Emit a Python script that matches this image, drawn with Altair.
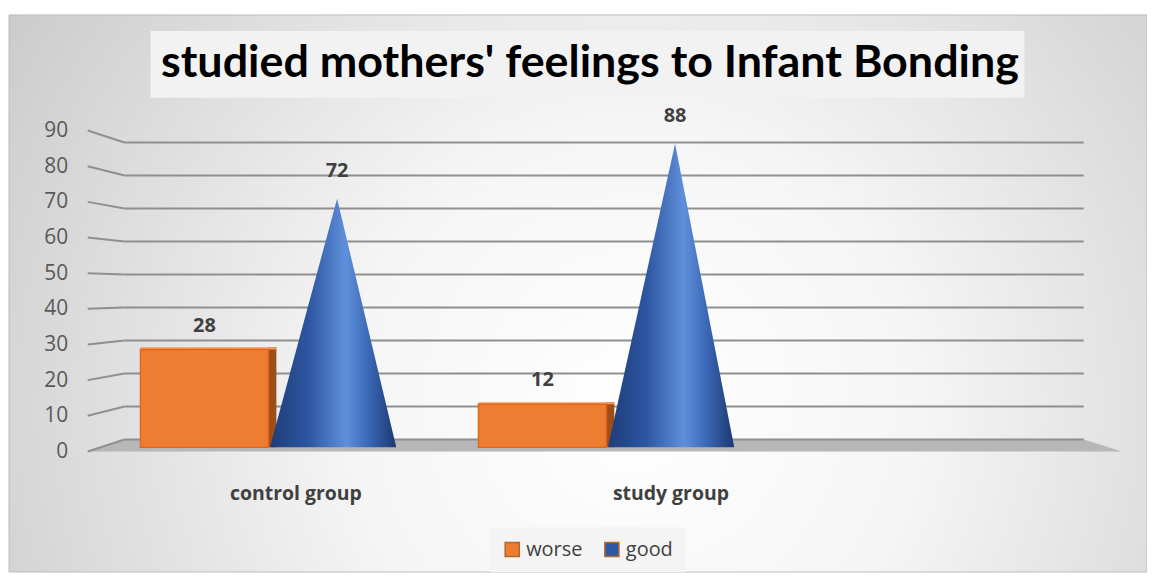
import altair as alt
import pandas as pd

# ---------------- data ----------------
groups = ["control group", "study group"]
worse = [28, 12]
good = [72, 88]
series = ["worse", "good"]
y_ticks = [0, 10, 20, 30, 40, 50, 60, 70, 80, 90]
title_text = "studied mothers' feelings to Infant Bonding"

# ---------------- perspective / layout constants (style only) ----------------
XMIN, XMAX = -0.115, 3.12          # slot units across the front floor edge
BACK_OFF, BACK_K = 3.354, 0.9254   # back-wall position expressed in front-axis units
MID_OFF, MID_K = 1.677, 0.9614     # mid-depth (where the bars stand)
BASE = 1.2
W, H = 1038, 322
PAD = {"left": 80, "top": 122, "right": 25, "bottom": 121}
FONT = "Open Sans"
TXT = "#404040"

xs = alt.Scale(domain=[XMIN, XMAX], nice=False, zero=False)
ys = alt.Scale(domain=[0, 90], nice=False, zero=False)
Y_AXIS = alt.Axis(values=y_ticks, domain=False, ticks=False, grid=False,
                  labelPadding=20, labelFont=FONT, labelFontSize=21,
                  labelColor="#595959", zindex=2, title=None,
                  labelOverlap=False, labelFlush=False)


def X(field):
    return alt.X(field, scale=xs, axis=None)


def Y(field):
    return alt.Y(field, scale=ys, axis=Y_AXIS, title=None)


bars = pd.DataFrame({"group": groups, "i": list(range(len(groups))),
                     "worse": worse, "good": good})
ticks = pd.DataFrame({"v": y_ticks})
one = pd.DataFrame({"a": [0]})

# cone outline points (left base, apex, right base) built from the data arrays
cone_rows = []
for i, (g, val) in enumerate(zip(groups, good)):
    off = 0.05 + 0.057 * i
    for frac, top in ((0.405, False), (0.615, True), (0.80, False)):
        cone_rows.append({"group": g, "cx": i + off + frac,
                          "cy": MID_OFF + MID_K * val if top else BASE})
cones = pd.DataFrame(cone_rows)

floor = pd.DataFrame({"fx": [XMIN, 0, 3, XMAX],
                      "fy": [0, BACK_OFF, BACK_OFF, 0]})

# ---------------- decorations ----------------
bg = alt.Chart(one).mark_rect(
    fill=alt.Gradient(gradient="radial", x1=0.55, y1=0.6, x2=0.55, y2=0.6, r1=0, r2=0.72,
                      stops=[alt.GradientStop(color="#ffffff", offset=0),
                             alt.GradientStop(color="#f5f5f5", offset=0.35),
                             alt.GradientStop(color="#c4c4c4", offset=1)]),
    stroke="#bdbdbd", strokeWidth=1
).encode(x=alt.value(-79), x2=alt.value(1063), y=alt.value(-116), y2=alt.value(443))

title_box = alt.Chart(one).mark_rect(fill="#f2f2f2").encode(
    x=alt.value(63), x2=alt.value(940), y=alt.value(-100), y2=alt.value(-33))

floor_area = alt.Chart(floor).mark_area(color="#b7b7b7").encode(
    x=X("fx:Q"), y=Y("fy:Q"), y2=alt.datum(0))

grid_h = alt.Chart(ticks).transform_calculate(
    yb=f"{BACK_OFF} + {BACK_K}*datum.v", xa="0", xb="3"
).mark_rule(color="#8f8f8f", strokeWidth=2).encode(
    x=X("xa:Q"), x2="xb:Q", y=Y("yb:Q"))

grid_s = alt.Chart(ticks).transform_calculate(
    yb=f"{BACK_OFF} + {BACK_K}*datum.v", xa=f"{XMIN}", xb="0"
).mark_rule(color="#8f8f8f", strokeWidth=2).encode(
    x=X("xa:Q"), x2="xb:Q", y=Y("v:Q"), y2="yb:Q")

# ---------------- bars (box for "worse") ----------------
bar_base = alt.Chart(bars).transform_calculate(
    off="0.05 + 0.057*datum.i",
    bx1="datum.i + datum.off",
    bx2="datum.i + datum.off + 0.40",
    bs2="datum.i + datum.off + 0.425",
    bc="datum.i + datum.off + 0.20",
    yb=f"{BASE}",
    yw=f"{MID_OFF} + {MID_K}*datum.worse",
    ywt=f"{MID_OFF} + {MID_K}*datum.worse + 0.6",
    ax="datum.i + datum.off + 0.615",
    yg=f"{MID_OFF} + {MID_K}*datum.good",
    lx="datum.i + 0.536 + 0.173*datum.i",
    zero="0",
)

box_side = bar_base.mark_rect(color="#9c4f19").encode(
    x=X("bx2:Q"), x2="bs2:Q", y=Y("yb:Q"), y2="ywt:Q")

box_top = bar_base.mark_rect(color="#f59a5c").encode(
    x=X("bx1:Q"), x2="bs2:Q", y=Y("yw:Q"), y2="ywt:Q")

box_front = bar_base.mark_rect(color="#ED7D31", stroke="#e2661f", strokeWidth=1.5).encode(
    x=X("bx1:Q"), x2="bx2:Q", y=Y("yb:Q"), y2="yw:Q")

cone = alt.Chart(cones).mark_area(
    color=alt.Gradient(gradient="linear", x1=0, y1=0, x2=1, y2=0,
                       stops=[alt.GradientStop(color="#1f3d78", offset=0),
                              alt.GradientStop(color="#2d55a0", offset=0.3),
                              alt.GradientStop(color="#5f8fdb", offset=0.6),
                              alt.GradientStop(color="#3b68b6", offset=0.78),
                              alt.GradientStop(color="#1c3870", offset=1)])
).encode(x=X("cx:Q"), y=Y("cy:Q"), y2=alt.datum(BASE), detail="group:N")

# ---------------- labels ----------------
lab_w = bar_base.mark_text(font=FONT, fontSize=20, fontWeight="bold", color=TXT, dy=-24).encode(
    x=X("bc:Q"), y=Y("yw:Q"), text="worse:Q")
lab_g = bar_base.mark_text(font=FONT, fontSize=20, fontWeight="bold", color=TXT, dy=-28).encode(
    x=X("ax:Q"), y=Y("yg:Q"), text="good:Q")
lab_cat = bar_base.mark_text(font=FONT, fontSize=19.5, fontWeight="bold", color=TXT, dy=43).encode(
    x=X("lx:Q"), y=Y("zero:Q"), text="group:N")

# ---------------- legend ----------------
legend_layer = bar_base.transform_fold(["worse", "good"], as_=["series", "val"]).mark_point(
    shape="square", filled=True, opacity=0
).encode(
    x=X("bc:Q"), y=Y("yb:Q"),
    color=alt.Color("series:N",
                    scale=alt.Scale(domain=series, range=["#ED7D31", "#2E58A6"]),
                    legend=alt.Legend(title=None, orient="none", legendX=404, legendY=398,
                                      direction="horizontal", symbolType="square",
                                      symbolSize=200, symbolOpacity=1,
                                      symbolStrokeColor="#b5652e", symbolStrokeWidth=1.5,
                                      labelFont=FONT, labelFontSize=20, labelColor=TXT,
                                      fillColor="#f4f4f4", padding=12, columnPadding=18,
                                      labelOffset=4)))

chart = alt.layer(
    bg, title_box, floor_area, grid_h, grid_s, box_side, box_top, box_front, cone,
    lab_w, lab_g, lab_cat, legend_layer
).properties(
    width=W, height=H, padding=PAD, autosize=alt.AutoSizeParams(type="none"),
    title=alt.TitleParams(title_text, font="Lato", fontSize=45, fontWeight="bold",
                          color="#000000", anchor="middle", dx=-15, offset=0, dy=108,
                          baseline="alphabetic", frame="group")
).configure_view(stroke=None)

chart.save("out.html", embed_options={"renderer": "svg", "actions": False})
